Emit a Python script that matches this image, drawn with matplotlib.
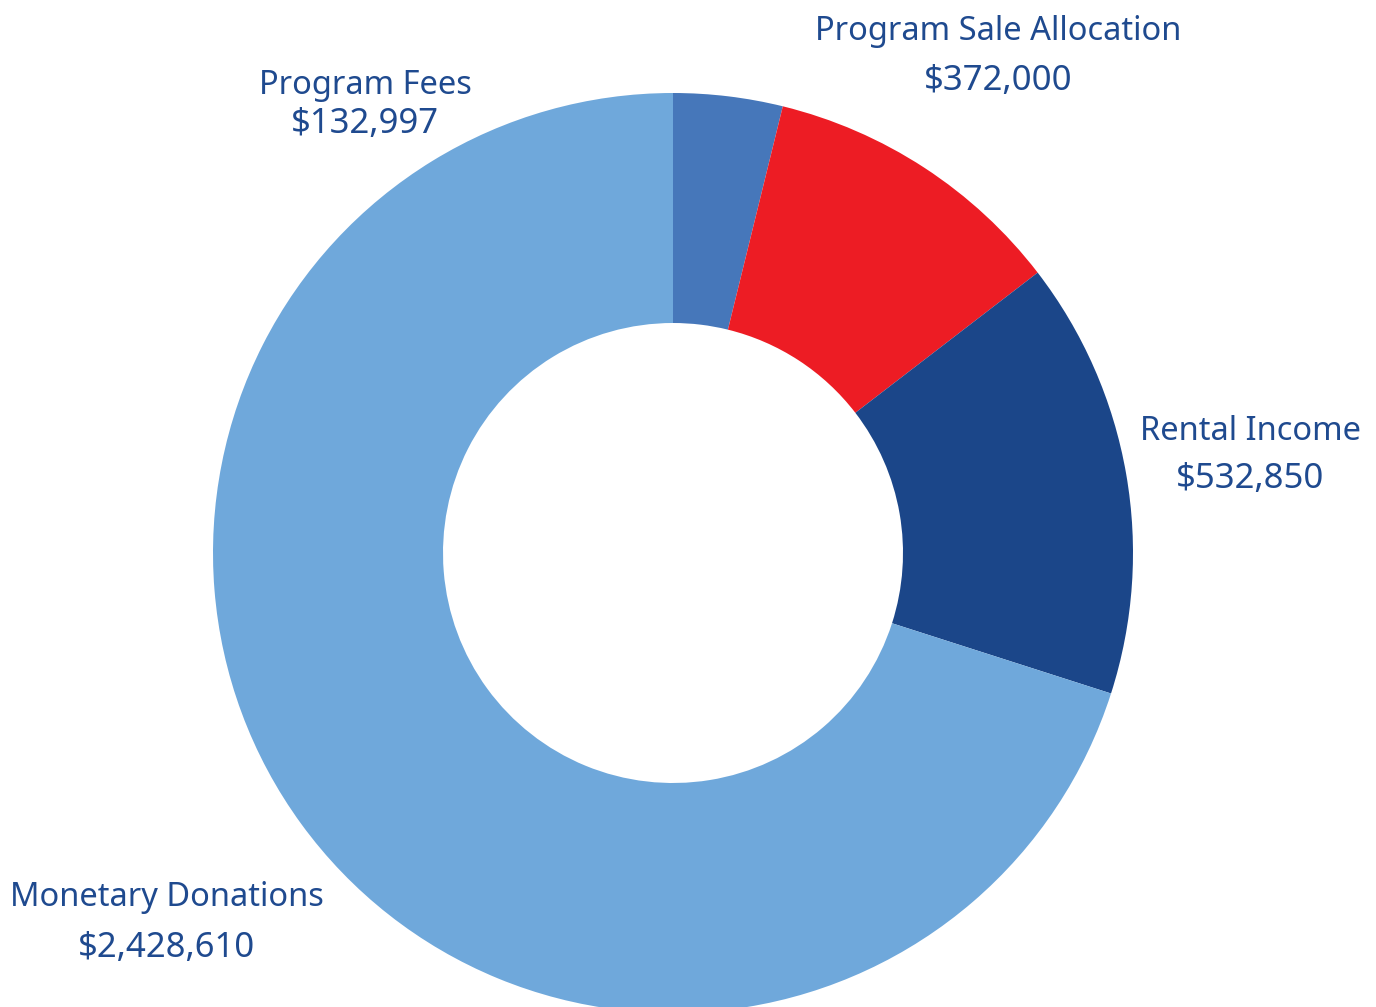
import matplotlib
matplotlib.use("Agg")
import matplotlib.pyplot as plt

# data
labels = ["Program Fees", "Program Sale Allocation", "Rental Income", "Monetary Donations"]
values = [132997, 372000, 532850, 2428610]
colors = ["#4677BA", "#ED1C24", "#1B4689", "#6FA8DB"]

text_color = "#1F4A8F"
plt.rcParams['font.family'] = ['Noto Sans', 'DejaVu Sans']

W, H = 1376, 1007
fig = plt.figure(figsize=(W / 100, H / 100), dpi=100)
ax = fig.add_axes([0, 0, 1, 1])

ax.pie(values, colors=colors, startangle=90, counterclock=False,
       center=(673, H - 553), radius=460,
       wedgeprops=dict(width=230, linewidth=0), frame=True)
ax.set_xlim(0, W)
ax.set_ylim(0, H)
ax.set_aspect('equal')
ax.axis('off')

# label positions (pixel coords from top-left): name line, value line
label_pos = [(365, 86, 124), (998, 31, 81), (1250, 431, 479), (167, 897, 948)]
for lab, val, (x, y1, y2) in zip(labels, values, label_pos):
    ax.text(x, H - y1, lab, ha='center', va='center', fontsize=23.5,
            color=text_color, fontweight='medium')
    ax.text(x, H - y2, f"${val:,}", ha='center', va='center', fontsize=25,
            color=text_color, fontweight='medium')

fig.savefig("out.png", dpi=100)
